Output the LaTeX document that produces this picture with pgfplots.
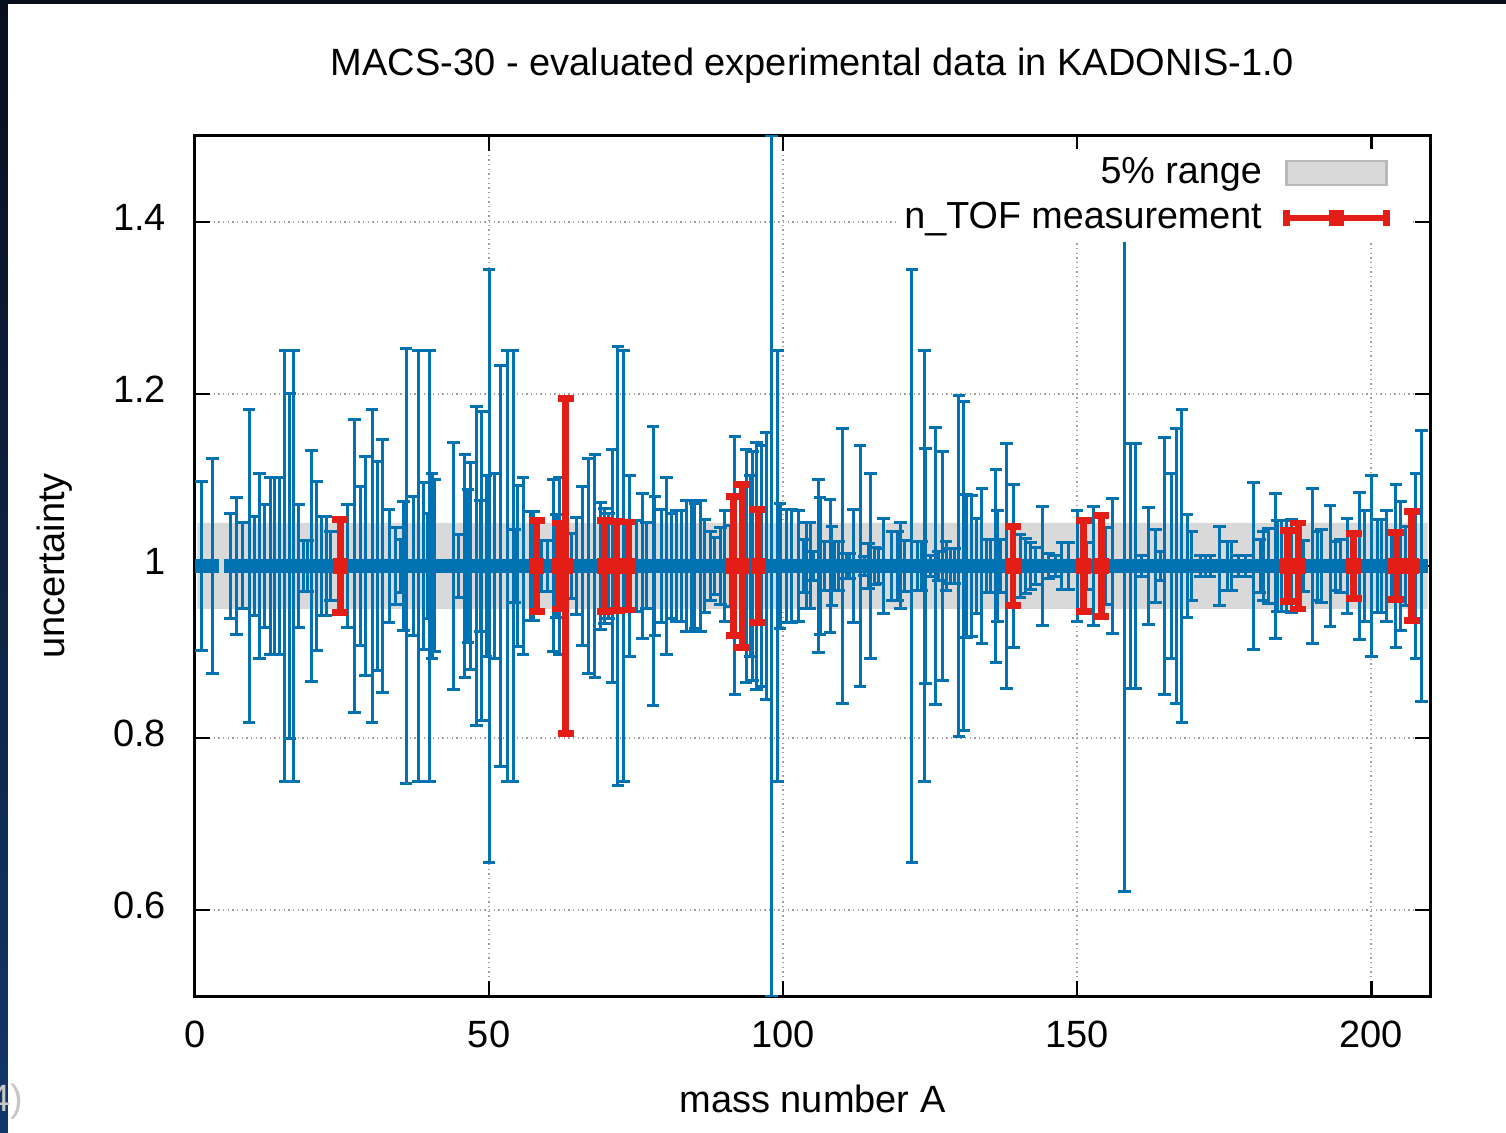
\documentclass[border=0pt]{standalone}
\usepackage{pgfplots}
\pgfplotsset{compat=1.18}
\usepackage{pgfplotstable}
\usepackage{fontspec}
\setmainfont{Liberation Sans}
\definecolor{gblue}{RGB}{0,114,178}
\definecolor{gred}{RGB}{227,30,22}
\definecolor{band}{RGB}{217,217,217}
\definecolor{bandedge}{RGB}{185,185,185}
\definecolor{navyA}{RGB}{8,14,28}
\definecolor{navyB}{RGB}{18,55,105}

\pgfplotstableread{
A y err
1.1 1 .098
3.0 1 .125
6.0 1 .061
7.0 1 .080
8.1 1 .050
9.2 1 .182
10.1 1 .057
11.0 1 .108
11.9 1 .071
12.8 1 .103
13.6 1 .103
14.4 1 .103
15.3 1 .250
16.1 1 .200
16.8 1 .250
17.6 1 .071
18.5 1 .030
19.1 1 .030
19.8 1 .134
20.7 1 .098
21.5 1 .057
22.3 1 .057
23.0 1 .040
25.9 1 .071
27.1 1 .170
28.1 1 .092
29.0 1 .127
30.1 1 .182
31.0 1 .122
31.9 1 .147
33.0 1 .066
34.1 1 .045
35.0 1 .031
35.5 1 .075
35.9 1 .253
37.1 1 .081
38.0 1 .250
38.9 1 .097
39.6 1 .061
39.9 1 .250
40.3 1 .108
40.8 1 .100
41.8 1 .004
42.9 1 .004
43.9 1 .144
44.8 1 .037
45.9 1 .130
46.4 1 .089
46.8 1 .120
47.9 1 .185
48.5 1 .076
48.8 1 .180
49.5 1 .105
50.0 1 .345
51.0 1 .107
51.9 1 .233
53.1 1 .250
54.1 1 .250
54.4 1 .043
54.9 1 .094
55.8 1 .103
57.0 1 .063
57.6 1 .063
59.0 1 .030
60.0 1 .030
60.9 1 .100
61.5 1 .060
62.0 1 .103
64.1 1 .038
64.9 1 .056
65.9 1 .093
66.9 1 .125
68.0 1 .130
68.9 1 .074
69.6 1 .067
70.3 1 .061
71.0 1 .136
71.9 1 .255
72.9 1 .250
73.9 1 .105
75.1 1 .053
76.1 1 .084
76.8 1 .050
77.9 1 .162
78.2 1 .081
79.4 1 .066
80.2 1 .103
81.1 1 .061
81.9 1 .065
82.8 1 .064
83.6 1 .076
84.4 1 .076
85.0 1 .073
85.9 1 .076
86.7 1 .054
87.6 1 .040
88.4 1 .033
89.3 1 .045
90.1 1 .065
91.0 1 .047
91.8 1 .150
93.7 1 .136
94.5 1 .105
94.8 1 .133
95.5 1 .144
96.3 1 .140
97.1 1 .155
98.0 1 .500
99.1 1 .250
99.5 1 .073
100.6 1 .066
101.5 1 .066
102.6 1 .064
103.5 1 .031
104.0 1 .050
104.6 1 .050
105.1 1 .017
106.0 1 .101
106.3 1 .080
107.1 1 .028
108.0 1 .077
108.3 1 .046
108.8 1 .028
109.4 1 .028
110.1 1 .160
110.8 1 .015
111.3 1 .014
111.9 1 .066
113.1 1 .140
113.8 1 .011
114.5 1 .026
114.9 1 .107
115.5 1 .022
116.3 1 .020
117.1 1 .055
118.5 1 .040
119.4 1 .040
120.0 1 .050
120.7 1 .030
121.9 1 .345
122.8 1 .029
123.6 1 .029
124.0 1 .250
124.2 1 .137
125.0 1 .012
125.9 1 .161
126.4 1 .017
127.1 1 .133
127.7 1 .029
128.4 1 .020
129.1 1 .020
129.9 1 .198
130.7 1 .191
131.2 1 .083
132.1 1 .082
132.9 1 .055
133.8 1 .090
134.6 1 .031
135.2 1 .031
136.2 1 .112
136.5 1 .065
137.0 1 .031
138.0 1 .142
139.2 1 .095
140.3 1 .037
141.2 1 .032
142.1 1 .027
142.9 1 .022
144.1 1 .069
145.1 1 .015
146.3 1 .012
147.4 1 .027
148.5 1 .027
150.0 1 .064
151.6 1 .027
152.8 1 .069
154.8 1 .045
156.0 1 .078
158.0 1 .379
159.0 1 .143
159.9 1 .143
161.0 1 .012
162.1 1 .068
163.3 1 .042
164.1 1 .017
164.9 1 .149
166.1 1 .108
166.9 1 .160
167.8 1 .182
168.7 1 .060
169.5 1 .040
170.9 1 .012
171.8 1 .012
172.6 1 .012
174.2 1 .046
175.5 1 .028
176.3 1 .028
177.4 1 .012
178.6 1 .012
180.0 1 .097
181.1 1 .031
181.7 1 .040
182.5 1 .044
183.7 1 .084
184.0 1 .053
184.8 1 .053
185.6 1 .053
186.5 1 .054
188.5 1 .030
190.0 1 .090
190.8 1 .040
191.6 1 .043
193.0 1 .070
193.9 1 .029
194.7 1 .031
195.9 1 .055
198.0 1 .086
198.9 1 .065
200.1 1 .105
201.0 1 .054
201.8 1 .054
202.6 1 .065
203.4 1 .040
204.2 1 .095
205.0 1 .075
205.8 1 .046
207.6 1 .107
208.6 1 .158
}\bluedata

\pgfplotstableread{
A y err
24.7 1 .054
58.1 1 .053
62.0 1 .050
63.0 1 .195
69.7 1 .053
71.7 1 .052
73.7 1 .051
91.6 1 .081
93.0 1 .095
95.8 1 .066
139.1 1 .046
151.1 1 .053
154.1 1 .059
185.8 1 .041
187.6 1 .050
197.0 1 .038
204.2 1 .039
206.9 1 .063
}\reddata

\begin{document}
\begin{tikzpicture}
\begin{axis}[
  width=370.5pt, height=258pt, scale only axis,
  xmin=0, xmax=210, ymin=0.5, ymax=1.5,
  xtick={0,50,100,150,200},
  ytick={0.6,0.8,1,1.2,1.4},
  grid=major,
  major grid style={densely dotted, gray!75, line width=0.5pt},
  axis line style={line width=0.9pt},
  tick align=inside, tick pos=both,
  major tick length=4.5pt,
  every tick/.style={black, line width=0.8pt},
  font=\fontsize{11.4}{13.5}\selectfont,
  /pgf/number format/assume math mode=true,
  tick label style={font=\fontsize{11.4}{13.5}\selectfont},
  xticklabel style={anchor=base, yshift=-15.3pt},
  yticklabel style={anchor=east, xshift=-5.2pt, yshift=1.5pt},
  title={MACS-30 - evaluated experimental data in KADONIS-1.0},
  title style={at={(axis description cs:0.5,1.0709)}, anchor=base, yshift=-6pt, font=\fontsize{11.4}{13.5}\selectfont},
  xlabel={mass number A},
  xlabel style={at={(axis description cs:0.5,-0.1349)}, anchor=base},
  ylabel={uncertainty},
  ylabel style={at={(axis description cs:-0.1053,0.5)}, anchor=base},
  legend style={at={(axis description cs:0.9855,0.9857)}, anchor=north east,
    draw=none, fill=white, inner sep=1pt, row sep=1.2pt, column sep=5pt,
    nodes={inner sep=1.5pt}, font=\fontsize{11.3}{13.5}\selectfont},
  legend cell align=right,
  legend plot pos=right,
]
\coordinate (SW) at (rel axis cs:0,0);
\coordinate (NE) at (rel axis cs:1,1);

\addplot[fill=band, draw=none,
  legend image code/.code={\draw[fill=band, draw=bandedge, line width=0.8pt] (0pt,-3.6pt) rectangle (30pt,3.6pt); \path[draw=none, fill=none] (0pt,0pt) -- (36.4pt,0pt);}]
  coordinates {(0.4,0.95) (209.6,0.95) (209.6,1.05) (0.4,1.05) (0.4,0.95)};
\addlegendentry{5\% range}

\addplot[only marks, mark=square*, mark size=1.8pt, color=gblue, forget plot,
  error bars/.cd, y dir=both, y explicit,
  error bar style={line width=0.9pt, gblue},
  error mark options={rotate=90, mark size=1.9pt, line width=0.9pt, gblue}]
  table[x=A, y=y, y error=err] {\bluedata};

\addplot[only marks, mark=square*, mark size=2.1pt, color=gred,
  legend image code/.code={
    \draw[gred, line width=2pt] (0pt,0pt) -- (30pt,0pt);
    \draw[gred, line width=2pt] (0pt,-2.4pt) -- (0pt,2.4pt);
    \draw[gred, line width=2pt] (30pt,-2.4pt) -- (30pt,2.4pt);
    \fill[gred] (12.9pt,-2.1pt) rectangle (17.1pt,2.1pt);
    \path[draw=none, fill=none] (0pt,0pt) -- (36.4pt,0pt);},
  error bars/.cd, y dir=both, y explicit,
  error bar style={line width=2pt, gred},
  error mark options={rotate=90, mark size=2.4pt, line width=2pt, gred}]
  table[x=A, y=y, y error=err] {\reddata};
\addlegendentry{n\_TOF measurement}
\end{axis}
\pgfresetboundingbox
\coordinate (P1) at ([shift={(-58.5pt,-40.8pt)}]SW);
\coordinate (P2) at ([shift={(22.8pt,40.8pt)}]NE);
\coordinate (P3) at (P1 |- P2);
\path[use as bounding box] (P1) rectangle (P2);
\shade[top color=navyA, bottom color=navyB] (P1) rectangle ([xshift=2.4pt]P3);
\fill[navyA] (P3) rectangle ([yshift=-1.2pt]P2);
\node[anchor=base east, text=gray!45, font=\fontsize{11.4}{13.5}\selectfont] at ([xshift=10.5pt,yshift=6pt]P1) {(4)};
\end{tikzpicture}
\end{document}
